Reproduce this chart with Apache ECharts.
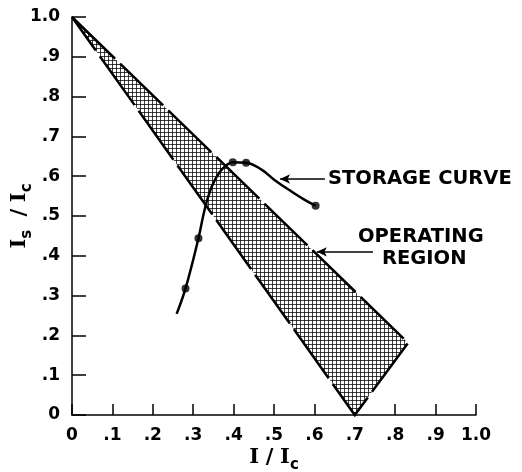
<!DOCTYPE html>
<html>
<head>
<meta charset="utf-8">
<script src="https://cdn.jsdelivr.net/npm/echarts@6/dist/echarts.min.js"></script>
<style>html,body{margin:0;padding:0;background:#fff}#c{width:522px;height:472px}</style>
</head>
<body>
<div id="c"></div>
<script>
// Data
const curveX = [0.259, 0.281, 0.313, 0.329, 0.346, 0.366, 0.383, 0.398, 0.431, 0.470, 0.502, 0.544, 0.577, 0.603];
const curveY = [0.254, 0.318, 0.444, 0.519, 0.574, 0.611, 0.628, 0.635, 0.634, 0.616, 0.590, 0.561, 0.540, 0.526];
const pointX = [0.281, 0.313, 0.398, 0.431, 0.603];
const pointY = [0.318, 0.444, 0.635, 0.634, 0.526];
const regionX = [0, 0.832, 0.700];
const regionY = [1.0, 0.181, 0];
const storageArrow = [[0.515, 0.593], [0.626, 0.593]];
const operatingArrow = [[0.606, 0.410], [0.745, 0.410]];
const tickLabels = ['0', '.1', '.2', '.3', '.4', '.5', '.6', '.7', '.8', '.9', '1.0'];

const FONT = 'DejaVu Sans';

// crosshatch pattern
const pc = document.createElement('canvas');
pc.width = 4; pc.height = 4;
const pctx = pc.getContext('2d');
pctx.fillStyle = '#fff';
pctx.fillRect(0, 0, 4, 4);
pctx.fillStyle = 'rgba(0,0,0,0.75)';
pctx.fillRect(0, 0, 4, 1);
pctx.fillRect(0, 0, 1, 4);

const fmt = v => tickLabels[Math.round(v * 10)];

const chart = echarts.init(document.getElementById('c'), null, {renderer: 'canvas'});
const axisCommon = {
  type: 'value', min: 0, max: 1, interval: 0.1,
  splitLine: {show: false},
  axisLine: {show: true, lineStyle: {color: '#000', width: 1.5}},
  axisLabel: {color: '#000', fontFamily: FONT, fontSize: 17, fontWeight: 'bold', formatter: fmt}
};
const nameRich = {
  m: {fontFamily: 'DejaVu Serif', fontSize: 21, fontWeight: 'bold', color: '#000', lineHeight: 30, verticalAlign: 'middle'},
  g: {fontFamily: FONT, fontSize: 21, color: '#000', lineHeight: 30, verticalAlign: 'middle'},
  s: {fontFamily: FONT, fontSize: 15, fontWeight: 'bold', color: '#000', lineHeight: 30, verticalAlign: 'bottom'}
};
chart.setOption({
  animation: false,
  backgroundColor: '#fff',
  grid: {left: 72, right: 46, top: 17, bottom: 57, containLabel: false, outerBoundsMode: 'none'},
  xAxis: Object.assign({}, axisCommon, {
    axisTick: {show: true, inside: true, length: 11, lineStyle: {color: '#000', width: 1.5}},
    axisLabel: Object.assign({}, axisCommon.axisLabel, {margin: 12}),
    name: '{m|I}{g| }{m|/}{g| }{m|I}{s|c}', nameLocation: 'middle', nameGap: 28, nameMoveOverlap: false,
    nameTextStyle: {rich: nameRich}
  }),
  yAxis: Object.assign({}, axisCommon, {
    axisTick: {show: true, inside: true, length: 14, lineStyle: {color: '#000', width: 1.5}},
    axisLabel: Object.assign({}, axisCommon.axisLabel, {margin: 12}),
    name: '{m|I}{s|s}{g|  }{m|/}{g| }{m|I}{s|c}', nameLocation: 'middle', nameGap: 37, nameRotate: 90, nameMoveOverlap: false,
    nameTextStyle: {rich: nameRich}
  }),
  series: [
    {
      type: 'custom',
      coordinateSystem: 'cartesian2d',
      data: regionX.map((x, i) => [x, regionY[i]]),
      renderItem: function (params, api) {
        if (params.dataIndex !== 0) return;
        const pts = regionX.map((x, i) => api.coord([x, regionY[i]]));
        return {
          type: 'polygon',
          shape: {points: pts},
          style: {fill: {image: pc, repeat: 'repeat'}, stroke: '#000', lineWidth: 2.5, lineDash: [60, 7]}
        };
      },
      z: 1
    },
    {
      type: 'line',
      data: curveX.map((x, i) => [x, curveY[i]]),
      smooth: 0.4,
      showSymbol: false,
      symbol: 'none',
      lineStyle: {color: '#000', width: 2.5},
      z: 3,
      markLine: {
        silent: true,
        symbol: ['arrow', 'none'],
        symbolSize: [7, 10],
        label: {show: false},
        lineStyle: {color: '#000', width: 1.5, type: 'solid'},
        data: [
          [{coord: storageArrow[0]}, {coord: storageArrow[1]}],
          [{coord: operatingArrow[0]}, {coord: operatingArrow[1]}]
        ]
      }
    },
    {
      type: 'scatter',
      data: pointX.map((x, i) => [x, pointY[i]]),
      symbol: 'circle',
      symbolSize: 8,
      itemStyle: {color: '#000'},
      z: 4
    }
  ],
  graphic: [
    {type: 'text', left: 328, top: 169, style: {text: 'STORAGE CURVE', font: 'bold 19.5px "DejaVu Sans"', fill: '#000'}},
    {type: 'text', left: 358, top: 227, style: {text: 'OPERATING', font: 'bold 19.5px "DejaVu Sans"', fill: '#000'}},
    {type: 'text', left: 382, top: 249, style: {text: 'REGION', font: 'bold 19.5px "DejaVu Sans"', fill: '#000'}}
  ]
});
</script>
</body>
</html>
